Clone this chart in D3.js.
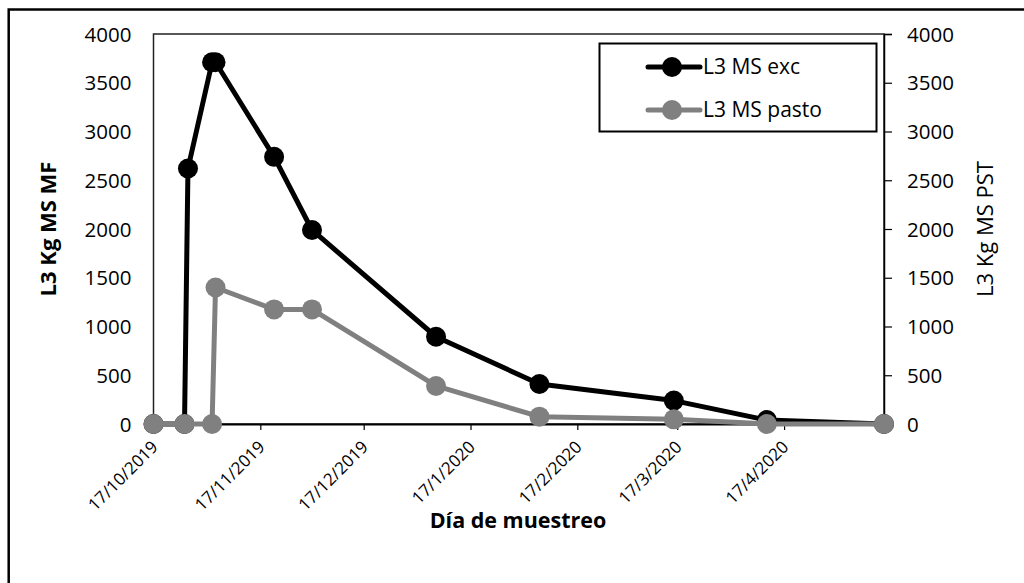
<!DOCTYPE html>
<html><head><meta charset="utf-8">
<script src="https://cdn.jsdelivr.net/npm/d3@7"></script>
<style>body{margin:0;background:#fff} svg text{font-family:"Open Sans",sans-serif;fill:#000}</style>
</head><body><svg id="c" width="1024" height="583"></svg>
<script>
const seriesNames = ["L3 MS exc", "L3 MS pasto"];
const excDates = ["2019-10-17","2019-10-26","2019-10-27","2019-11-03","2019-11-04","2019-11-21","2019-12-02","2020-01-07","2020-02-06","2020-03-16","2020-04-12","2020-05-16"];
const excValues = [0,0,2620,3710,3710,2740,1990,895,410,240,40,0];
const pastoDates = ["2019-10-17","2019-10-26","2019-11-03","2019-11-04","2019-11-21","2019-12-02","2020-01-07","2020-02-06","2020-03-16","2020-04-12","2020-05-16"];
const pastoValues = [0,0,0,1400,1175,1175,390,75,48,0,0];
const yTicks = [0,500,1000,1500,2000,2500,3000,3500,4000];
const xTickDates = ["2019-10-17","2019-11-17","2019-12-17","2020-01-17","2020-02-17","2020-03-17","2020-04-17"];
const xDomain = ["2019-10-17","2020-05-16"];
const yTitleLeft = "L3 Kg MS MF";
const yTitleRight = "L3 Kg MS PST";
const xTitle = "Día de muestreo";

const parse = d3.utcParse("%Y-%m-%d");
const fmt = d => `${d.getUTCDate()}/${d.getUTCMonth()+1}/${d.getUTCFullYear()}`;
const svg = d3.select("#c");
const L = 153.5, R = 884, T = 34, B = 424;

const x = d3.scaleUtc().domain(xDomain.map(parse)).range([L, R]);
const yL = d3.scaleLinear().domain([0, 4000]).range([B, T]);
const yR = d3.scaleLinear().domain([0, 4000]).range([B, T]);

// outer chart border
svg.append("rect").attr("x", 8.7).attr("y", 9.5).attr("width", 1030).attr("height", 600)
  .attr("fill", "#fff").attr("stroke", "#000").attr("stroke-width", 2.5);

// plot area frame
svg.append("rect").attr("x", L).attr("y", T).attr("width", R - L).attr("height", B - T)
  .attr("fill", "none").attr("stroke", "#222").attr("stroke-width", 1.5);

// left axis
const gL = svg.append("g").attr("transform", `translate(${L},0)`)
  .call(d3.axisLeft(yL).tickValues(yTicks).tickSize(0).tickPadding(22).tickFormat(d3.format("d")));
gL.select(".domain").remove();
gL.selectAll("text").style("font-size", "20.5px").attr("dy", "0.35em");

// right axis
const gR = svg.append("g").attr("transform", `translate(${R},0)`)
  .call(d3.axisRight(yR).tickValues(yTicks).tickSize(8).tickPadding(15).tickFormat(d3.format("d")));
gR.select(".domain").attr("stroke", "#000").attr("stroke-width", 1.5);
gR.selectAll("line").attr("stroke", "#000").attr("stroke-width", 1.2);
gR.selectAll("text").style("font-size", "20.5px").attr("dy", "0.35em");

// bottom axis
const gB = svg.append("g").attr("transform", `translate(0,${B})`)
  .call(d3.axisBottom(x).tickValues(xTickDates.map(parse)).tickSize(6).tickFormat(fmt));
gB.select(".domain").attr("stroke", "#000").attr("stroke-width", 2);
gB.selectAll("line").attr("stroke", "#000").attr("stroke-width", 1.2);
gB.selectAll("text").style("font-size", "17px")
  .attr("text-anchor", "end").attr("dy", null).attr("y", null)
  .attr("transform", "translate(5,24) rotate(-45)");

// titles
svg.append("text").attr("transform", "translate(56,229) rotate(-90)").attr("text-anchor", "middle")
  .style("font-size", "22px").style("font-weight", "bold").text(yTitleLeft);
svg.append("text").attr("transform", "translate(993,229) rotate(-90)").attr("text-anchor", "middle")
  .style("font-size", "22px").text(yTitleRight);
svg.append("text").attr("x", 518).attr("y", 528).attr("text-anchor", "middle")
  .style("font-size", "21.5px").style("font-weight", "bold").text(xTitle);

// series
const exc = excDates.map((d, i) => ({ d: parse(d), v: excValues[i] }));
const pasto = pastoDates.map((d, i) => ({ d: parse(d), v: pastoValues[i] }));
const colors = ["#000000", "#808080"];

function drawSeries(data, y, color) {
  svg.append("path").datum(data)
    .attr("d", d3.line().x(p => x(p.d)).y(p => y(p.v)))
    .attr("fill", "none").attr("stroke", color).attr("stroke-width", 5)
    .attr("stroke-linejoin", "round");
  svg.append("g").selectAll("circle").data(data).join("circle")
    .attr("cx", p => x(p.d)).attr("cy", p => y(p.v)).attr("r", 10).attr("fill", color);
}
drawSeries(exc, yL, colors[0]);
drawSeries(pasto, yR, colors[1]);

// legend
const lg = svg.append("g");
lg.append("rect").attr("x", 599.5).attr("y", 43.5).attr("width", 277).attr("height", 88)
  .attr("fill", "#fff").attr("stroke", "#000").attr("stroke-width", 2);
seriesNames.forEach((n, i) => {
  const cy = 67 + i * 43;
  lg.append("line").attr("x1", 648).attr("x2", 700).attr("y1", cy).attr("y2", cy)
    .attr("stroke", colors[i]).attr("stroke-width", 5).attr("stroke-linecap", "round");
  lg.append("circle").attr("cx", 672).attr("cy", cy).attr("r", 10).attr("fill", colors[i]);
  lg.append("text").attr("x", 703).attr("y", cy).attr("dy", "0.35em").style("font-size", "21px").text(n);
});
</script></body></html>
